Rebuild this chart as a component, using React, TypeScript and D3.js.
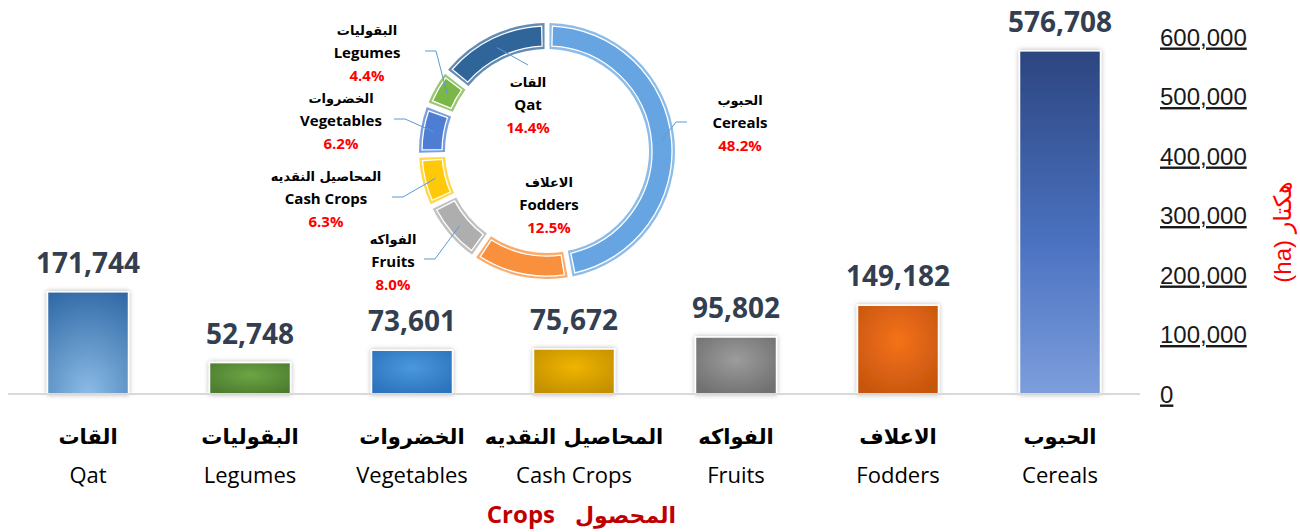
import React from 'react'
import * as d3 from 'd3'

const categoriesEn = ['Qat', 'Legumes', 'Vegetables', 'Cash Crops', 'Fruits', 'Fodders', 'Cereals']
const categoriesAr = ['القات', 'البقوليات', 'الخضروات', 'المحاصيل النقديه', 'الفواكه', 'الاعلاف', 'الحبوب']
const areaHa = [171744, 52748, 73601, 75672, 95802, 149182, 576708]
const yTicks = [0, 100000, 200000, 300000, 400000, 500000, 600000]

// bar fills: [centre, edge] of each radial gradient
const barInner = ['#8cbce6', '#6ca544', '#4a98dc', '#f0b400', '#9c9c9c', '#f57219', '#7d9fdc']
const barOuter = ['#2e67a4', '#4d7c2f', '#2c73bd', '#c39000', '#717171', '#c7560f', '#2c4580']
// ring colours in the same order as the categories
const ringColors = ['#2f6599', '#7ab648', '#4e7ed4', '#ffc90a', '#aeaeae', '#f8903e', '#66a5e1']

// label anchors for the donut: x, baseline of middle line, leader start (or null)
const donutLabelPos: Record<string, { x: number; y: number; lead: number[] | null; dir: number }> = {
  Cereals: { x: 740, y: 128, lead: [687, 122], dir: -1 },
  Fodders: { x: 549, y: 210, lead: null, dir: 0 },
  Fruits: { x: 393, y: 267, lead: [424, 259], dir: 1 },
  'Cash Crops': { x: 326, y: 204, lead: [392, 197], dir: 1 },
  Vegetables: { x: 341, y: 126, lead: [394, 119], dir: 1 },
  Legumes: { x: 367, y: 58, lead: [425, 51], dir: 1 },
  Qat: { x: 528, y: 110, lead: [528, 65], dir: 0 },
}

const W = 1300
const H = 532
const baseY = 394
const latin = "'Open Sans', 'DejaVu Sans', sans-serif"
const arabic = "'DejaVu Sans', sans-serif"

export default function App() {
  const x = d3.scaleBand<string>().domain(categoriesEn).range([7, 1141]).paddingInner(0.5).paddingOuter(0.25)
  const y = d3.scaleLinear().domain([0, 600000]).range([baseY, 37])

  const total = d3.sum(areaHa)
  const pieData = categoriesEn.map((c, i) => ({ c, v: areaHa[i], color: ringColors[i] })).reverse()
  const pie = d3.pie<any>().value(d => d.v).sort(null).padAngle(0.03)
  const arcs = pie(pieData)
  const cx = 547
  const cy = 151
  const rOuter = 128
  const rInner = 102
  const arcOuter = d3.arc<any>().innerRadius(rInner).outerRadius(rOuter)
  const arcInset = d3.arc<any>().innerRadius(rInner + 3).outerRadius(rOuter - 3)
  const arcMid = d3.arc<any>().innerRadius(115).outerRadius(115)

  return (
    <svg width={W} height={H} style={{ position: 'absolute', left: 0, top: 0, display: 'block', background: '#fff' }}>
      <defs>
        {barInner.map((c, i) => (
          <radialGradient key={i} id={`bg${i}`} cx="50%" cy={i === 0 ? '100%' : '40%'} r={i === 0 ? '110%' : '65%'}>
            <stop offset="0%" stopColor={c} />
            <stop offset="100%" stopColor={barOuter[i]} />
          </radialGradient>
        ))}
        <linearGradient id="cerealGrad" x1="0" y1="0" x2="0" y2="1">
          <stop offset="0%" stopColor="#2c4580" />
          <stop offset="55%" stopColor="#4a71c0" />
          <stop offset="100%" stopColor="#7d9edc" />
        </linearGradient>
        <filter id="shadow" x="-20%" y="-20%" width="140%" height="140%">
          <feDropShadow dx="0" dy="0" stdDeviation="2.5" floodColor="#000" floodOpacity="0.3" />
        </filter>
      </defs>

      {/* bars */}
      {categoriesEn.map((c, i) => (
        <rect
          key={c}
          x={x(c)}
          y={y(areaHa[i])}
          width={x.bandwidth()}
          height={baseY - y(areaHa[i])}
          fill={i === 6 ? 'url(#cerealGrad)' : `url(#bg${i})`}
          stroke="#fff"
          strokeWidth={1.5}
          filter="url(#shadow)"
        />
      ))}
      <line x1={8} x2={1140} y1={baseY} y2={baseY} stroke="#d9d9d9" strokeWidth={2} />

      {/* value labels */}
      {categoriesEn.map((c, i) => (
        <text
          key={c}
          x={x(c)! + x.bandwidth() / 2}
          y={y(areaHa[i]) - 19}
          textAnchor="middle"
          fontFamily={latin}
          fontWeight="bold"
          fontSize={28}
          fill="#333f50"
        >
          {d3.format(',')(areaHa[i])}
        </text>
      ))}

      {/* category labels */}
      {categoriesEn.map((c, i) => (
        <g key={c} transform={`translate(${x(c)! + x.bandwidth() / 2},0)`}>
          <text y={444} textAnchor="middle" fontFamily={arabic} fontWeight="bold" fontSize={21} fill="#000">
            {categoriesAr[i]}
          </text>
          <text y={483} textAnchor="middle" fontFamily={latin} fontSize={22} fill="#000">
            {c}
          </text>
        </g>
      ))}

      {/* x axis title */}
      <text x={555} y={523} textAnchor="end" fontFamily={latin} fontWeight="bold" fontSize={24} fill="#c00000">
        Crops
      </text>
      <text x={575} y={523} textAnchor="start" fontFamily={arabic} fontWeight="bold" fontSize={22} fill="#c00000">
        المحصول
      </text>

      {/* y axis on right */}
      {yTicks.map(t => (
        <text
          key={t}
          x={1160}
          y={y(t) + 8.5}
          fontFamily="'Liberation Sans', Arial, sans-serif"
          fontSize={24}
          fill="#1a1a1a"
          style={{ textDecoration: 'underline' }}
        >
          {d3.format(',')(t)}
        </text>
      ))}
      <text
        transform="translate(1291,232) rotate(-90)"
        textAnchor="middle"
        fontFamily="'Liberation Sans', 'DejaVu Sans', sans-serif"
        fontSize={24}
        fill="#ff0000"
      >
        (ha) هكتار
      </text>

      {/* donut */}
      <g transform={`translate(${cx},${cy})`}>
        {arcs.map(a => {
          const d = 3 / rOuter
          return (
            <g key={a.data.c}>
              <path d={arcOuter(a)!} fill={a.data.color} opacity={0.75} />
              <path
                d={arcInset({ ...a, startAngle: a.startAngle + d, endAngle: a.endAngle - d })!}
                fill={a.data.color}
                stroke="#fff"
                strokeWidth={1.3}
              />
            </g>
          )
        })}
      </g>

      {/* donut labels and leaders */}
      {arcs.map(a => {
        const p = donutLabelPos[a.data.c]
        const i = categoriesEn.indexOf(a.data.c)
        const [mx, my] = arcMid.centroid(a)
        let leader = null
        if (p.lead) {
          const pts: [number, number][] = [[p.lead[0], p.lead[1]]]
          if (p.dir !== 0) pts.push([p.lead[0] + p.dir * 11, p.lead[1]])
          pts.push([cx + mx, cy + my])
          leader = <path d={d3.line()(pts)!} fill="none" stroke="#5b9bd5" strokeWidth={1} />
        }
        return (
          <g key={a.data.c}>
            {leader}
            <text x={p.x} y={p.y - 23} textAnchor="middle" fontFamily={arabic} fontWeight="bold" fontSize={13} fill="#000">
              {categoriesAr[i]}
            </text>
            <text x={p.x} y={p.y} textAnchor="middle" fontFamily={latin} fontWeight="bold" fontSize={15} fill="#000">
              {a.data.c}
            </text>
            <text x={p.x} y={p.y + 23} textAnchor="middle" fontFamily={latin} fontWeight="bold" fontSize={15} fill="#ff0000">
              {((a.data.v / total) * 100).toFixed(1)}%
            </text>
          </g>
        )
      })}
    </svg>
  )
}
